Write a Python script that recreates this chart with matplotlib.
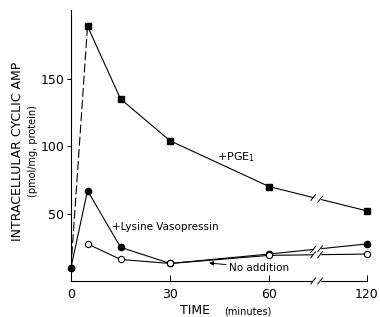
import numpy as np
import matplotlib
matplotlib.use("Agg")
import matplotlib.pyplot as plt

# time points (minutes) and cyclic AMP (pmol/mg protein)
minutes = [0, 5, 15, 30, 60, 120]
pge1 = [10, 189, 135, 104, 70, 52]
vasopressin = [10, 67, 25, 13, 20, 27.5]
no_addition = [10, 27.5, 16, 13, 19, 20]
tick_minutes = [0, 30, 60, 120]


def to_disp(t):
    # broken time axis: 60 -> 120 squeezed
    t = np.asarray(t, dtype=float)
    return np.where(t <= 60, t, 60 + (t - 60) * 29.6 / 60)


BREAK = (73.3, 75.4)

fig = plt.figure(figsize=(3.8, 3.17), dpi=100)
ax = fig.add_axes([71 / 380, 1 - 281 / 317, (367 - 71) / 380, (281 - 10) / 317])

x = to_disp(minutes)
lw = 0.8
ms = 4.5

# PGE1: dashed first segment, solid afterwards
ax.plot(x[:2], pge1[:2], color="black", lw=lw, ls=(0, (8, 3)))
ax.plot(x[1:], pge1[1:], color="black", lw=lw, marker="s", ms=ms, clip_on=False)
ax.plot(x, vasopressin, color="black", lw=lw, marker="o", ms=ms, clip_on=False)
ax.plot(x[1:], no_addition[1:], color="black", lw=lw, marker="o", ms=ms,
        mfc="white", mec="black", mew=0.8, clip_on=False, zorder=3)
ax.plot(x[0], no_addition[0], "o", color="black", ms=ms, zorder=4)

# break gap
ax.axvspan(BREAK[0], BREAK[1], ymin=-0.02, ymax=1, color="white", zorder=5, clip_on=False)
for ys in (pge1, vasopressin, no_addition):
    for bx in BREAK:
        by = np.interp(bx, x, ys)
        ax.plot([bx - 0.7, bx + 0.7], [by - 2.2, by + 2.2], color="black", lw=0.7, zorder=6)
for bx in BREAK:
    ax.plot([bx - 0.7, bx + 0.7], [-2.2, 2.2], color="black", lw=0.7, zorder=6, clip_on=False)

ax.set_xlim(0, 89.6)
ax.set_ylim(0, 201)
for s in ("top", "right"):
    ax.spines[s].set_visible(False)
for s in ("left", "bottom"):
    ax.spines[s].set_linewidth(0.8)

ax.set_xticks(to_disp(tick_minutes))
ax.set_xticklabels([str(t) for t in tick_minutes])
ax.set_yticks([50, 100, 150])
ax.tick_params(axis="x", direction="in", length=4, width=0.7, labelsize=9, pad=5)
ax.tick_params(axis="y", direction="out", length=3, width=0.7, labelsize=9, pad=2)

ax.text(44.2, 92, "+PGE$_1$", fontsize=8, va="center")
ax.text(12.5, 40, "+Lysine Vasopressin", fontsize=7.5, va="center")
ax.annotate("No addition", xy=(41.8, 13.4), xytext=(47.8, 9.7), fontsize=7.5,
            va="center", arrowprops=dict(arrowstyle="-|>", lw=0.7, color="black",
                                         mutation_scale=6, shrinkA=0, shrinkB=0))

fig.text(18 / 380, 1 - 151 / 317, "INTRACELLULAR CYCLIC AMP", rotation=90,
         ha="center", va="center", fontsize=9)
fig.text(33 / 380, 1 - 151 / 317, "(pmol/mg, protein)", rotation=90,
         ha="center", va="center", fontsize=7)
fig.text(195 / 380, 1 - 311 / 317, "TIME", ha="center", va="center", fontsize=9)
fig.text(248 / 380, 1 - 311 / 317, "(minutes)", ha="center", va="center", fontsize=7)

fig.savefig("out.png", dpi=100)
